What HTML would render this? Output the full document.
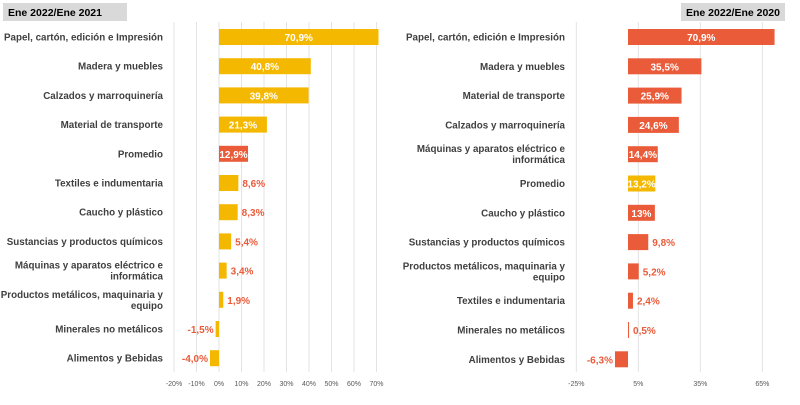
<!DOCTYPE html>
<html><head><meta charset="utf-8"><style>
body{margin:0;background:#fff;width:800px;height:400px;overflow:hidden;font-family:"Liberation Sans",sans-serif}
svg text{font-family:"Liberation Sans",sans-serif}
</style></head><body>
<svg id="c" width="800" height="400">
<rect x="3" y="3" width="124" height="18" fill="#d9d9d9"/>
<text x="8" y="16" font-size="10.5" font-weight="bold" fill="#000">Ene 2022/Ene 2021</text>
<rect x="681" y="3" width="104" height="18" fill="#d9d9d9"/>
<text x="686" y="16" font-size="10.5" font-weight="bold" fill="#000">Ene 2022/Ene 2020</text>
</svg>
<script>
const leftCats=["Papel, cartón, edición e Impresión","Madera y muebles","Calzados y marroquinería","Material de transporte","Promedio","Textiles e indumentaria","Caucho y plástico","Sustancias y productos químicos","Máquinas y aparatos eléctrico e|informática","Productos metálicos, maquinaria y|equipo","Minerales no metálicos","Alimentos y Bebidas"];
const leftVals=[70.9,40.8,39.8,21.3,12.9,8.6,8.3,5.4,3.4,1.9,-1.5,-4.0];
const leftLabels=["70,9%","40,8%","39,8%","21,3%","12,9%","8,6%","8,3%","5,4%","3,4%","1,9%","-1,5%","-4,0%"];
const leftTicks=[-20,-10,0,10,20,30,40,50,60,70];
const rightCats=["Papel, cartón, edición e Impresión","Madera y muebles","Material de transporte","Calzados y marroquinería","Máquinas y aparatos eléctrico e|informática","Promedio","Caucho y plástico","Sustancias y productos químicos","Productos metálicos, maquinaria y|equipo","Textiles e indumentaria","Minerales no metálicos","Alimentos y Bebidas"];
const rightVals=[70.9,35.5,25.9,24.6,14.4,13.2,13,9.8,5.2,2.4,0.5,-6.3];
const rightLabels=["70,9%","35,5%","25,9%","24,6%","14,4%","13,2%","13%","9,8%","5,2%","2,4%","0,5%","-6,3%"];
const rightTicks=[-25,5,35,65];
const YEL="#f5b800",RED="#ea5b3a";
const svg=document.getElementById('c');
const NS="http://www.w3.org/2000/svg";
function mk(t,a){const e=document.createElementNS(NS,t);for(const k in a)e.setAttribute(k,a[k]);svg.appendChild(e);return e;}
function chart(side,cats,vals,labels,ticks,x0,ppu,labelRight,y0,step,baseColor,altIdx,altColor,insideMin){
  const sx=v=>x0+v*ppu;
  const yTop=22,yBot=372;
  ticks.forEach(t=>{
    const g=mk('line',{x1:sx(t),x2:sx(t),y1:yTop,y2:yBot,stroke:'#e3e3e3','stroke-width':1});
    
    
    const tx=mk('text',{x:sx(t),y:386,'font-size':7,fill:'#595959','text-anchor':'middle'});
    tx.textContent=t+'%';
    
    
  });
  cats.forEach((c,i)=>{
    const cy=y0+i*step,v=vals[i];
    const lines=c.split('|');
    lines.forEach((ln,j)=>{
      const t=mk('text',{x:labelRight,y:cy+3.5+(j-(lines.length-1)/2)*11,'font-size':9.8,fill:'#404040','text-anchor':'end','font-weight':'bold'});
      t.textContent=ln;
      
      
    });
    const a=Math.min(sx(0),sx(v)),w=Math.abs(sx(v)-sx(0));
    const col=i===altIdx?altColor:baseColor;
    const b=mk('rect',{x:a,y:cy-8,width:Math.max(w,1),height:16,fill:col});
    
    
    const inside=v>=insideMin;
    let lx,anchor,fill;
    if(inside){lx=a+w/2;anchor='middle';fill='#fff';}
    else if(v<0){lx=sx(v)-2;anchor='end';fill=RED;}
    else{lx=sx(v)+4;anchor='start';fill=RED;}
    const t=mk('text',{x:lx,y:cy+4,'font-size':10,'font-weight':'bold',fill:fill,'text-anchor':anchor});
    t.textContent=labels[i];
    
    
  });
}
chart('left',leftCats,leftVals,leftLabels,leftTicks,219,2.25,163,37,29.2,YEL,4,RED,12);
chart('right',rightCats,rightVals,rightLabels,rightTicks,628,2.067,565,37,29.3,RED,5,YEL,12);
</script>
</body></html>
